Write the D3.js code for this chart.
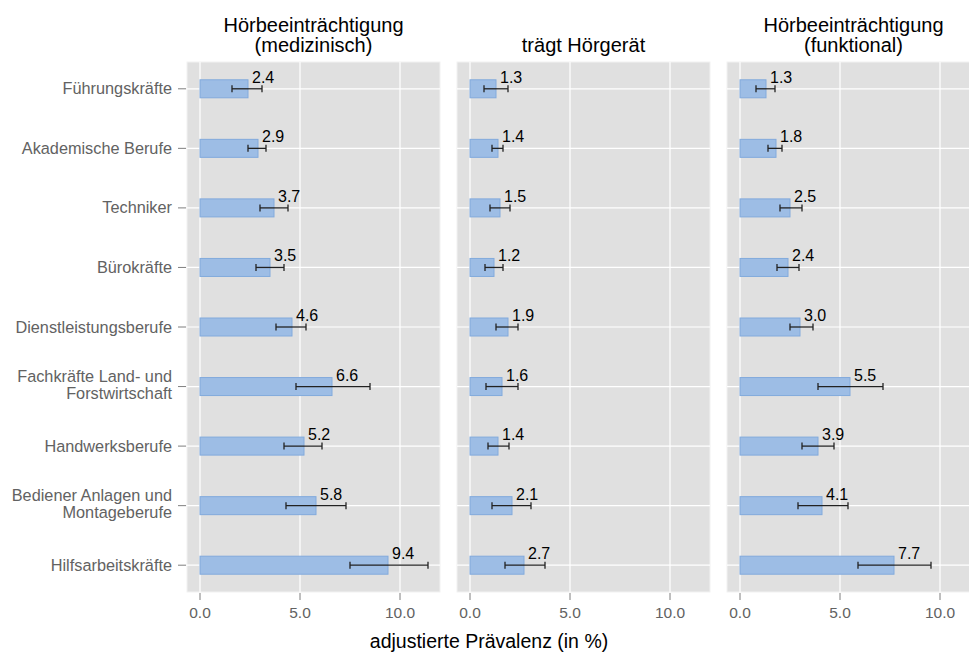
<!DOCTYPE html>
<html>
<head>
<meta charset="utf-8">
<script src="https://cdn.jsdelivr.net/npm/d3@7"></script>
<style>
  body { margin: 0; background: #fff; }
  svg { display: block; font-family: "Liberation Sans", Arial, sans-serif; }
</style>
</head>
<body>
<svg width="969" height="653"></svg>
<script>
const categories = ['Führungskräfte', 'Akademische Berufe', 'Techniker', 'Bürokräfte',
    'Dienstleistungsberufe', 'Fachkräfte Land- und\nForstwirtschaft', 'Handwerksberufe',
    'Bediener Anlagen und\nMontageberufe', 'Hilfsarbeitskräfte'];

const panelTitles = [['Hörbeeinträchtigung', '(medizinisch)'], ['trägt Hörgerät'], ['Hörbeeinträchtigung', '(funktional)']];

const medValues = [2.4, 2.9, 3.7, 3.5, 4.6, 6.6, 5.2, 5.8, 9.4];
const medLower  = [1.6, 2.4, 3.0, 2.8, 3.8, 4.8, 4.2, 4.3, 7.5];
const medUpper  = [3.1, 3.3, 4.4, 4.2, 5.3, 8.5, 6.1, 7.3, 11.4];

const aidValues = [1.3, 1.4, 1.5, 1.2, 1.9, 1.6, 1.4, 2.1, 2.7];
const aidLower  = [0.7, 1.1, 1.0, 0.75, 1.3, 0.8, 0.9, 1.1, 1.75];
const aidUpper  = [1.9, 1.65, 2.0, 1.65, 2.4, 2.4, 1.95, 3.05, 3.75];

const funcValues = [1.3, 1.8, 2.5, 2.4, 3.0, 5.5, 3.9, 4.1, 7.7];
const funcLower  = [0.8, 1.4, 2.0, 1.85, 2.5, 3.9, 3.1, 2.9, 5.9];
const funcUpper  = [1.75, 2.1, 3.1, 2.95, 3.65, 7.15, 4.7, 5.4, 9.55];

const xTicks = [0, 5, 10];

const panels = [
    {values: medValues, lower: medLower, upper: medUpper},
    {values: aidValues, lower: aidLower, upper: aidUpper},
    {values: funcValues, lower: funcLower, upper: funcUpper}
];

const svg = d3.select('svg');
const plotTop = 62, plotBottom = 592;
const panelLeft = [187, 457, 727];
const panelWidth = 253;

const y = d3.scalePoint().domain(categories).range([plotTop, plotBottom]).padding(0.45);
const barH = 18;

// y axis labels and ticks
const yAxis = svg.append('g');
categories.forEach(c => {
    const cy = y(c);
    yAxis.append('line')
        .attr('x1', 178).attr('x2', 186)
        .attr('y1', cy).attr('y2', cy)
        .attr('stroke', '#7f7f7f').attr('stroke-width', 1);
    const lines = c.split('\n');
    const t = yAxis.append('text')
        .attr('text-anchor', 'end')
        .attr('font-size', 16.3)
        .attr('fill', '#626262');
    lines.forEach((l, i) => {
        t.append('tspan')
            .attr('x', 172)
            .attr('y', cy + 5.5 - (lines.length > 1 ? 1.5 : 0) + (i - (lines.length - 1) / 2) * 16.5)
            .text(l);
    });
});

panels.forEach((p, k) => {
    const x = d3.scaleLinear().domain([-0.65, 12]).range([panelLeft[k], panelLeft[k] + panelWidth]);
    const g = svg.append('g');

    g.append('rect')
        .attr('x', panelLeft[k]).attr('y', plotTop)
        .attr('width', panelWidth).attr('height', plotBottom - plotTop)
        .attr('fill', '#e0e0e0')
        .attr('stroke', '#f2f2f2').attr('stroke-width', 1);

    // grid
    xTicks.forEach(t => {
        g.append('line')
            .attr('x1', x(t)).attr('x2', x(t))
            .attr('y1', plotTop).attr('y2', plotBottom)
            .attr('stroke', '#fff').attr('stroke-width', 1.2);
    });
    categories.forEach(c => {
        g.append('line')
            .attr('x1', panelLeft[k]).attr('x2', panelLeft[k] + panelWidth)
            .attr('y1', y(c)).attr('y2', y(c))
            .attr('stroke', '#fff').attr('stroke-width', 1.2);
    });

    // bars
    categories.forEach((c, i) => {
        g.append('rect')
            .attr('x', x(0)).attr('y', y(c) - barH / 2)
            .attr('width', x(p.values[i]) - x(0)).attr('height', barH)
            .attr('fill', '#9dbde5')
            .attr('stroke', '#82aadc').attr('stroke-width', 1);
    });

    // error bars
    categories.forEach((c, i) => {
        const cy = y(c);
        g.append('line')
            .attr('x1', x(p.lower[i])).attr('x2', x(p.upper[i]))
            .attr('y1', cy).attr('y2', cy)
            .attr('stroke', '#222').attr('stroke-width', 1.3);
        [p.lower[i], p.upper[i]].forEach(v => {
            g.append('line')
                .attr('x1', x(v)).attr('x2', x(v))
                .attr('y1', cy - 3.5).attr('y2', cy + 3.5)
                .attr('stroke', '#222').attr('stroke-width', 1.3);
        });
    });

    // value labels
    categories.forEach((c, i) => {
        g.append('text')
            .attr('x', x(p.values[i]) + 4)
            .attr('y', y(c) - 6)
            .attr('font-size', 16)
            .attr('fill', '#000')
            .text(p.values[i].toFixed(1));
    });

    // x axis
    xTicks.forEach(t => {
        g.append('line')
            .attr('x1', x(t)).attr('x2', x(t))
            .attr('y1', plotBottom + 1).attr('y2', plotBottom + 8)
            .attr('stroke', '#7f7f7f').attr('stroke-width', 1);
        g.append('text')
            .attr('x', x(t)).attr('y', 618)
            .attr('text-anchor', 'middle')
            .attr('font-size', 15.5)
            .attr('fill', '#626262')
            .text(t.toFixed(1));
    });

    // title
    const lines = panelTitles[k];
    lines.forEach((l, i) => {
        g.append('text')
            .attr('x', panelLeft[k] + panelWidth / 2)
            .attr('y', 52 - (lines.length - 1 - i) * 20)
            .attr('text-anchor', 'middle')
            .attr('font-size', 20)
            .attr('fill', '#000')
            .text(l);
    });
});

svg.append('text')
    .attr('x', 489).attr('y', 648)
    .attr('text-anchor', 'middle')
    .attr('font-size', 19.5)
    .attr('fill', '#000')
    .text('adjustierte Prävalenz (in %)');
</script>
</body>
</html>
